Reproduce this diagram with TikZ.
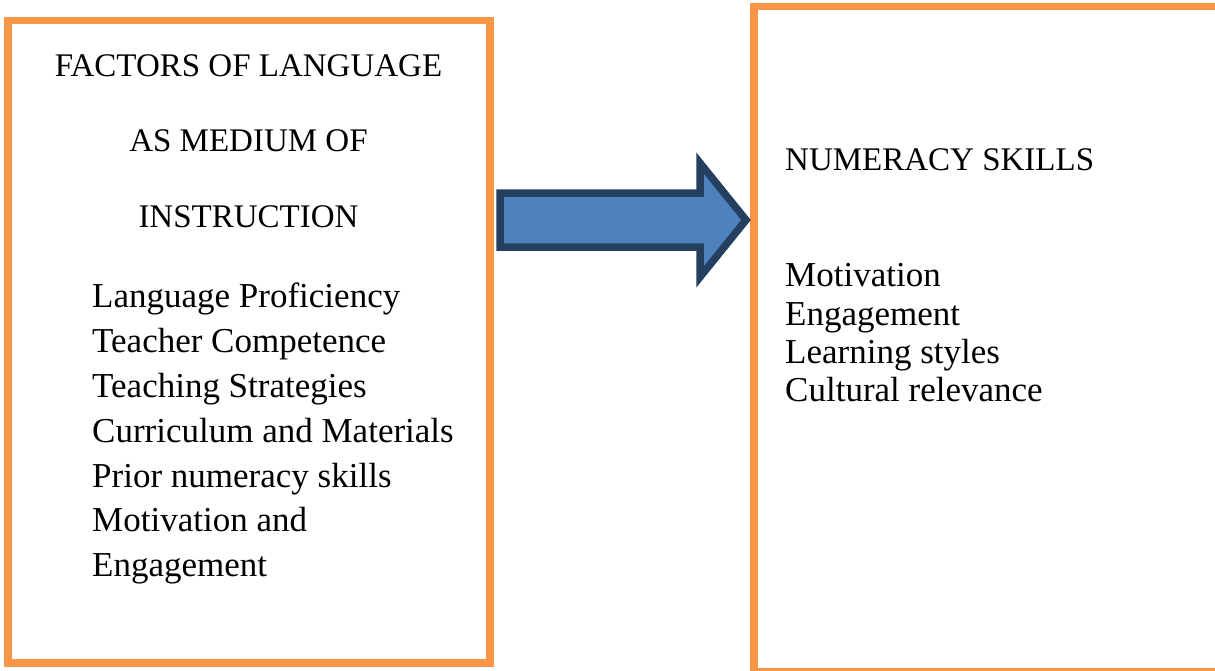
\documentclass[tikz,border=0pt]{standalone}
\usepackage{fontspec}
\setmainfont{Liberation Serif}
\definecolor{boxorange}{HTML}{F79646}
\definecolor{arrowfill}{HTML}{4F81BD}
\definecolor{arrowline}{HTML}{243F60}
\tikzset{
  framebox/.style={draw=boxorange, line width=7.5pt},
  headtxt/.style={inner sep=0pt, font=\fontsize{33}{40}\selectfont},
  itemtxt/.style={inner sep=0pt, font=\fontsize{35}{42}\selectfont, anchor=base west},
  blockarrow/.style={fill=arrowfill, draw=arrowline, line width=7.5pt, line join=miter},
}
\begin{document}
\begin{tikzpicture}[x=1pt,y=-1pt]
\clip (0,0) rectangle (1215,670);
\fill[white] (0,0) rectangle (1215,670);
% boxes
\draw[framebox] (8,20.5) rectangle (490,663);
\draw[framebox] (754,6.5) rectangle (1225,672);
% left heading
\node[headtxt, anchor=base] (h1) at (248.5,76) {FACTORS OF LANGUAGE};
\node[headtxt, anchor=base] (h2) at (248.5,151.5) {AS MEDIUM OF};
\node[headtxt, anchor=base] (h3) at (248.5,227) {INSTRUCTION};
% left items
\node[itemtxt] (l1) at (92,307.7) {Language Proficiency};
\node[itemtxt] (l2) at (92,352.5) {Teacher Competence};
\node[itemtxt] (l3) at (92,397.4) {Teaching Strategies};
\node[itemtxt] (l4) at (92,442.2) {Curriculum and Materials};
\node[itemtxt] (l5) at (92,487.0) {Prior numeracy skills};
\node[itemtxt] (l6) at (92,531.8) {Motivation and};
\node[itemtxt] (l7) at (92,576.7) {Engagement};
% right heading and items
\node[headtxt, anchor=base west] (r0) at (785,170.7) {NUMERACY SKILLS};
\node[itemtxt] (r1) at (785,286.7) {Motivation};
\node[itemtxt] (r2) at (785,325) {Engagement};
\node[itemtxt] (r3) at (785,363) {Learning styles};
\node[itemtxt] (r4) at (785,401.5) {Cultural relevance};
% block arrow
\coordinate (a1) at (500,193);
\coordinate (a2) at (700,193);
\coordinate (a3) at (700,163);
\coordinate (tip) at (746,220);
\coordinate (a5) at (700,277);
\coordinate (a6) at (700,247);
\coordinate (a7) at (500,247);
\draw[blockarrow] (a1) -- (a2) -- (a3) -- (tip) -- (a5) -- (a6) -- (a7) -- cycle;
\end{tikzpicture}
\end{document}
